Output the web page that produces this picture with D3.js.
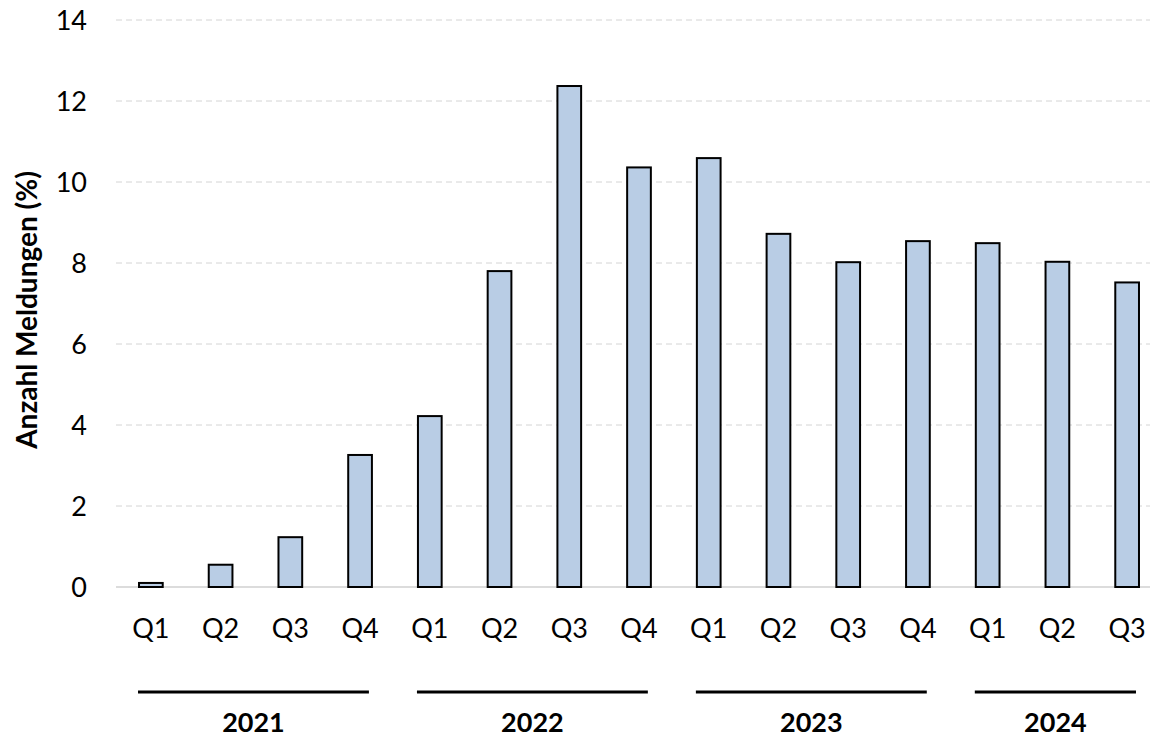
<!DOCTYPE html>
<html>
<head>
<meta charset="utf-8">
<script src="https://cdn.jsdelivr.net/npm/d3@7"></script>
<style>
body { margin: 0; background: #fff; }
text { font-family: Lato, "Open Sans", sans-serif; }
</style>
</head>
<body>
<div id="chart"></div>
<script>
// data
var years = ["2021", "2022", "2023", "2024"];
var quarters = ["Q1", "Q2", "Q3", "Q4", "Q1", "Q2", "Q3", "Q4", "Q1", "Q2", "Q3", "Q4", "Q1", "Q2", "Q3"];
var quarterYear = ["2021", "2021", "2021", "2021", "2022", "2022", "2022", "2022", "2023", "2023", "2023", "2023", "2024", "2024", "2024"];
var values = [0.1, 0.55, 1.23, 3.26, 4.22, 7.8, 12.37, 10.36, 10.59, 8.72, 8.02, 8.54, 8.49, 8.03, 7.52];
var yTicks = [0, 2, 4, 6, 8, 10, 12, 14];

var width = 1152, height = 739;
var fontSize = 28;
var svg = d3.select("#chart").append("svg").attr("width", width).attr("height", height);

var ids = values.map(function (d, i) { return i; });
var x = d3.scaleBand().domain(ids).range([116, 1162]).paddingInner(0.66).paddingOuter(0.33);
var y = d3.scaleLinear().domain([0, 14]).range([587, 20]);

// gridlines
svg.append("g").selectAll("line").data(yTicks.filter(function (d) { return d > 0; })).enter()
    .append("line")
    .attr("x1", 116).attr("x2", 1150)
    .attr("y1", function (d) { return y(d); }).attr("y2", function (d) { return y(d); })
    .attr("stroke", "#d4d4d4").attr("stroke-width", 1).attr("stroke-dasharray", "6,4");

// y axis labels
var yAxis = d3.axisLeft(y).tickValues(yTicks).tickSize(0).tickPadding(0);
var yg = svg.append("g").attr("transform", "translate(87,1)").call(yAxis);
yg.select(".domain").remove();
yg.selectAll("text").attr("font-size", fontSize - 1).attr("fill", "#000").attr("font-family", "Lato, 'Open Sans', sans-serif");

// zero line
svg.append("line").attr("x1", 116).attr("x2", 1150).attr("y1", y(0)).attr("y2", y(0))
    .attr("stroke", "#d0d0d0").attr("stroke-width", 1.5);

// bars
svg.append("g").selectAll("rect").data(values).enter()
    .append("rect")
    .attr("x", function (d, i) { return x(i); })
    .attr("y", function (d) { return y(d); })
    .attr("width", x.bandwidth())
    .attr("height", function (d) { return y(0) - y(d); })
    .attr("fill", "#b9cde5")
    .attr("stroke", "#000").attr("stroke-width", 2);

// quarter labels
var xAxis = d3.axisBottom(x).tickFormat(function (i) { return quarters[i]; }).tickSize(0).tickPadding(0);
var xg = svg.append("g").attr("transform", "translate(0,619)").call(xAxis);
xg.select(".domain").remove();
xg.selectAll("text").attr("font-size", fontSize - 1).attr("fill", "#000").attr("font-family", "Lato, 'Open Sans', sans-serif");

// year groups
years.forEach(function (yr) {
    var idx = ids.filter(function (i) { return quarterYear[i] === yr; });
    var x0 = x(idx[0]) - 1, x1 = x(idx[idx.length - 1]) + x.bandwidth() - 3;
    svg.append("line").attr("x1", x0).attr("x2", x1).attr("y1", 692).attr("y2", 692)
        .attr("stroke", "#000").attr("stroke-width", 3);
    svg.append("text").attr("x", (x0 + x1) / 2).attr("y", 732)
        .attr("text-anchor", "middle").attr("font-size", fontSize - 1).attr("font-weight", "bold")
        .text(yr);
});

// y label
svg.append("text")
    .attr("transform", "translate(37,310)rotate(-90)")
    .attr("text-anchor", "middle").attr("font-size", fontSize).attr("font-weight", "bold")
    .text("Anzahl Meldungen (%)");
</script>
</body>
</html>
